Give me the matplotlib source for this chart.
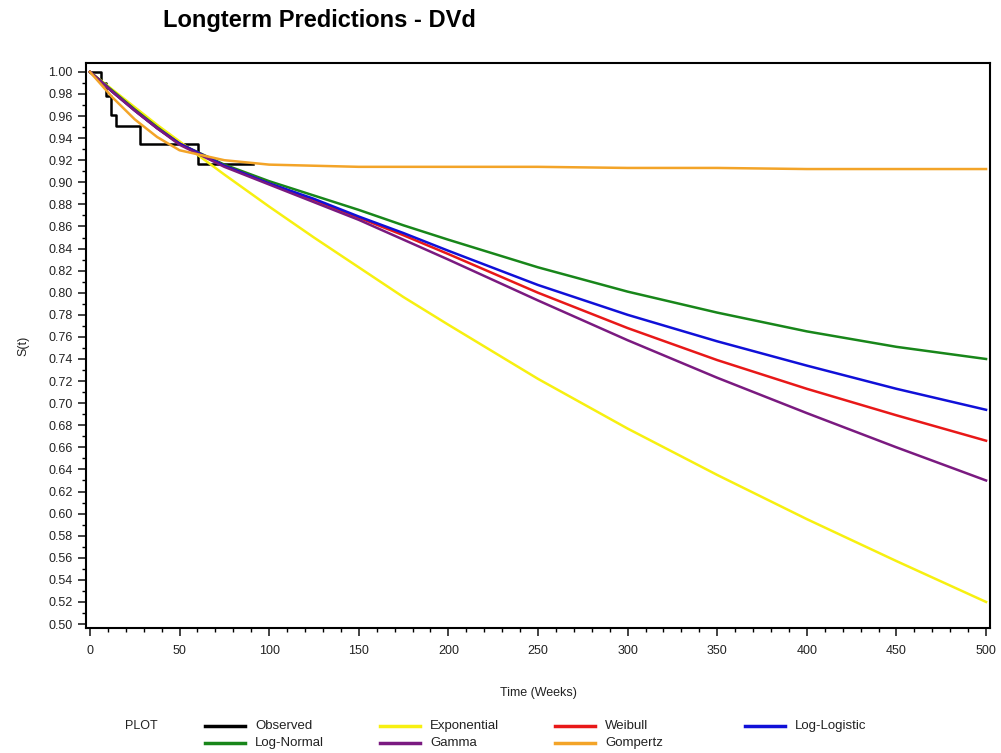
import matplotlib
matplotlib.use('Agg')
import matplotlib.pyplot as plt
from matplotlib.lines import Line2D
from matplotlib.ticker import MultipleLocator, FormatStrFormatter

plt.rcParams['font.family'] = ['Liberation Sans', 'DejaVu Sans']

# observed Kaplan-Meier steps
obs_t = [0, 6, 9, 12, 14.5, 28, 60.5, 91]
obs_s = [1.000, 0.990, 0.978, 0.961, 0.951, 0.935, 0.917, 0.917]

# fitted curves
t_fit = [0, 12.5, 25, 37.5, 50, 75, 100, 125, 150, 175, 200, 250, 300, 350, 400, 450, 500]
exponential = [1.0, 0.984, 0.968, 0.952, 0.937, 0.907, 0.878, 0.850, 0.823, 0.796, 0.771, 0.722, 0.677, 0.635, 0.595, 0.557, 0.520]
weibull = [1.0, 0.982, 0.965, 0.949, 0.935, 0.915, 0.899, 0.884, 0.868, 0.852, 0.835, 0.800, 0.768, 0.739, 0.713, 0.689, 0.666]
log_logistic = [1.0, 0.982, 0.965, 0.949, 0.935, 0.915, 0.899, 0.885, 0.869, 0.854, 0.838, 0.807, 0.780, 0.756, 0.734, 0.713, 0.694]
log_normal = [1.0, 0.983, 0.966, 0.950, 0.935, 0.916, 0.901, 0.888, 0.875, 0.861, 0.848, 0.823, 0.801, 0.782, 0.765, 0.751, 0.740]
gamma = [1.0, 0.982, 0.965, 0.949, 0.934, 0.914, 0.898, 0.882, 0.866, 0.848, 0.830, 0.793, 0.757, 0.723, 0.691, 0.660, 0.630]
gompertz = [1.0, 0.977, 0.957, 0.941, 0.929, 0.920, 0.916, 0.915, 0.914, 0.914, 0.914, 0.914, 0.913, 0.913, 0.912, 0.912, 0.912]

legend_names = ['Observed', 'Exponential', 'Weibull', 'Log-Logistic', 'Log-Normal', 'Gamma', 'Gompertz']
colors = {
    'Observed': '#000000', 'Exponential': '#f7f010', 'Weibull': '#e81818',
    'Log-Logistic': '#1010d8', 'Log-Normal': '#18861a', 'Gamma': '#7a1a80',
    'Gompertz': '#f3a428',
}
curves = {
    'Exponential': exponential, 'Log-Normal': log_normal, 'Gamma': gamma,
    'Weibull': weibull, 'Log-Logistic': log_logistic, 'Gompertz': gompertz,
}

fig = plt.figure(figsize=(10.01, 7.53), dpi=100)
ax = fig.add_axes([0.0859, 0.166, 0.9031, 0.7503])

ax.step(obs_t, obs_s, where='post', color=colors['Observed'], lw=1.8, zorder=2)
for name in ['Exponential', 'Log-Normal', 'Weibull', 'Log-Logistic', 'Gamma', 'Gompertz']:
    ax.plot(t_fit, curves[name], color=colors[name], lw=1.8, zorder=3)

ax.set_xlim(-2.2, 502.2)
ax.set_ylim(0.4964, 1.008)
ax.xaxis.set_major_locator(MultipleLocator(50))
ax.xaxis.set_minor_locator(MultipleLocator(10))
ax.yaxis.set_major_locator(MultipleLocator(0.02))
ax.yaxis.set_minor_locator(MultipleLocator(0.01))
ax.yaxis.set_major_formatter(FormatStrFormatter('%.2f'))
ax.tick_params(which='major', direction='out', length=6, width=1.2, labelsize=9, colors='#222222')
ax.tick_params(which='minor', direction='out', length=3, width=1.0)
ax.tick_params(axis='x', pad=6)
for s in ax.spines.values():
    s.set_linewidth(1.5)

ax.set_xlabel('Time (Weeks)', fontsize=9, labelpad=22, color='#222222')
ax.set_ylabel('S(t)', fontsize=9, labelpad=14, color='#222222')

fig.text(163 / 1001, 1 - 20 / 753, 'Longterm Predictions - DVd', fontsize=17,
         fontweight='bold', ha='left', va='center')

# legend drawn by hand to match the layout
fig.text(125 / 1001, 1 - 726 / 753, 'PLOT', fontsize=9, ha='left', va='center', color='#222222')
col_x = [205, 380, 555, 745]
row_y = [726, 743]
for i, name in enumerate(legend_names):
    r, c = (0, i) if i < 4 else (1, i - 4)
    x0 = col_x[c] / 1001
    y0 = 1 - row_y[r] / 753
    fig.add_artist(Line2D([x0, x0 + 40 / 1001], [y0, y0], color=colors[name], lw=2.5,
                          transform=fig.transFigure))
    fig.text(x0 + 50 / 1001, y0, name, fontsize=9.5, ha='left', va='center', color='#222222')

fig.savefig('out.png', dpi=100)
